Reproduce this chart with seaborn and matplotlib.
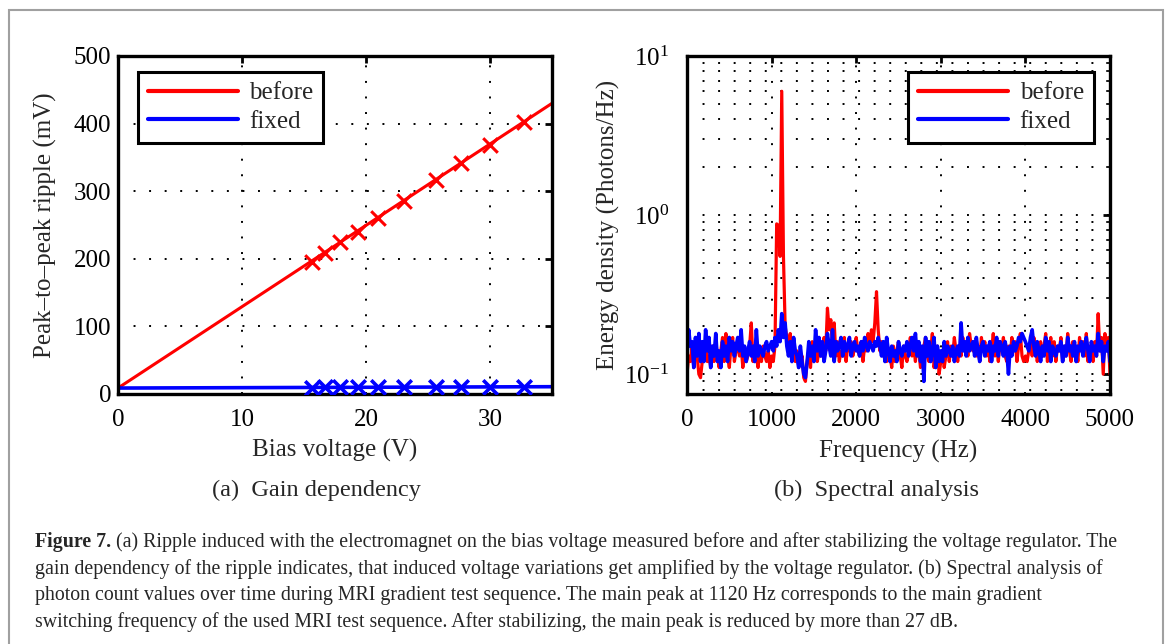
import numpy as np
import matplotlib
matplotlib.use("Agg")
import matplotlib.pyplot as plt
from matplotlib.patches import Rectangle
from matplotlib.ticker import NullFormatter, LogLocator
import seaborn as sns

# ---------------- data ----------------
bias_v = [15.67, 16.69, 17.92, 19.36, 20.98, 23.10, 25.62, 27.63, 29.97, 32.72]
ripple_before = [196, 208, 224.5, 240, 261, 285, 316, 342, 369, 403]
ripple_fixed = [9.6, 9.7, 9.8, 9.8, 9.9, 10.0, 10.1, 10.1, 10.2, 10.4]
fit_x = [0, 35]
fit_before = [8.8, 430]
fit_fixed = [8.8, 10.8]

freq_step = 20
spec_before = [
    0.10, 0.13, 0.12, 0.15, 0.11, 0.14, 0.13, 0.10, 0.095, 0.12,
    0.14, 0.16, 0.12, 0.13, 0.11, 0.15, 0.12, 0.16, 0.13, 0.11,
    0.14, 0.17, 0.12, 0.18, 0.13, 0.11, 0.15, 0.17, 0.12, 0.14,
    0.16, 0.13, 0.15, 0.11, 0.14, 0.12, 0.13, 0.15, 0.21, 0.12,
    0.15, 0.13, 0.11, 0.14, 0.12, 0.15, 0.13, 0.12, 0.14, 0.11,
    0.13, 0.12, 0.15, 0.88, 0.86, 0.55, 6.0, 0.55, 0.20, 0.17,
    0.15, 0.18, 0.13, 0.16, 0.12, 0.14, 0.11, 0.12, 0.13, 0.095,
    0.09, 0.12, 0.14, 0.11, 0.16, 0.13, 0.15, 0.12, 0.14, 0.13,
    0.15, 0.17, 0.14, 0.26, 0.19, 0.22, 0.15, 0.21, 0.13, 0.16,
    0.12, 0.14, 0.13, 0.17, 0.12, 0.15, 0.14, 0.16, 0.13, 0.15,
    0.17, 0.14, 0.13, 0.16, 0.12, 0.15, 0.14, 0.18, 0.15, 0.19,
    0.16, 0.21, 0.33, 0.19, 0.14, 0.16, 0.13, 0.15, 0.12, 0.14,
    0.13, 0.11, 0.15, 0.12, 0.14, 0.16, 0.13, 0.11, 0.15, 0.13,
    0.12, 0.14, 0.17, 0.13, 0.15, 0.12, 0.16, 0.14, 0.11, 0.13,
    0.15, 0.17, 0.13, 0.12, 0.14, 0.18, 0.11, 0.13, 0.15, 0.10,
    0.12, 0.14, 0.11, 0.13, 0.16, 0.12, 0.15, 0.13, 0.17, 0.14,
    0.12, 0.15, 0.13, 0.17, 0.14, 0.16, 0.13, 0.18, 0.15, 0.14,
    0.16, 0.13, 0.15, 0.12, 0.17, 0.14, 0.16, 0.13, 0.15, 0.12,
    0.14, 0.18, 0.13, 0.15, 0.12, 0.16, 0.14, 0.17, 0.13, 0.12,
    0.15, 0.13, 0.17, 0.14, 0.16, 0.12, 0.15, 0.18, 0.13, 0.12,
    0.13, 0.12, 0.14, 0.16, 0.13, 0.17, 0.15, 0.12, 0.14, 0.16,
    0.13, 0.15, 0.18, 0.12, 0.14, 0.17, 0.13, 0.16, 0.12, 0.15,
    0.14, 0.17, 0.12, 0.15, 0.13, 0.18, 0.14, 0.12, 0.16, 0.13,
    0.15, 0.12, 0.17, 0.14, 0.16, 0.13, 0.18, 0.12, 0.15, 0.14,
    0.12, 0.16, 0.13, 0.24, 0.14, 0.17, 0.10, 0.18, 0.14, 0.17,
    0.10,
]
spec_fixed = [
    0.13, 0.19, 0.15, 0.16, 0.11, 0.17, 0.13, 0.18, 0.12, 0.16,
    0.12, 0.19, 0.14, 0.17, 0.11, 0.15, 0.13, 0.18, 0.12, 0.14,
    0.11, 0.16, 0.13, 0.15, 0.12, 0.17, 0.14, 0.16, 0.13, 0.15,
    0.17, 0.14, 0.19, 0.13, 0.15, 0.12, 0.14, 0.16, 0.13, 0.15,
    0.12, 0.19, 0.13, 0.15, 0.14, 0.13, 0.15, 0.16, 0.14, 0.15,
    0.16, 0.14, 0.17, 0.15, 0.19, 0.16, 0.24, 0.17, 0.21, 0.15,
    0.13, 0.16, 0.12, 0.17, 0.14, 0.13, 0.11, 0.15, 0.12, 0.10,
    0.095, 0.12, 0.16, 0.13, 0.15, 0.12, 0.19, 0.14, 0.17, 0.13,
    0.16, 0.12, 0.14, 0.18, 0.15, 0.13, 0.19, 0.12, 0.16, 0.14,
    0.15, 0.17, 0.13, 0.16, 0.14, 0.15, 0.17, 0.13, 0.15, 0.16,
    0.14, 0.15, 0.13, 0.16, 0.14, 0.17, 0.15, 0.14, 0.16, 0.15,
    0.14, 0.16, 0.15, 0.17, 0.15, 0.13, 0.16, 0.12, 0.17, 0.14,
    0.12, 0.15, 0.13, 0.14, 0.12, 0.16, 0.14, 0.13, 0.15, 0.14,
    0.16, 0.13, 0.15, 0.17, 0.14, 0.18, 0.13, 0.16, 0.12, 0.15,
    0.09, 0.17, 0.13, 0.16, 0.12, 0.14, 0.17, 0.11, 0.15, 0.12,
    0.14, 0.12, 0.16, 0.13, 0.15, 0.14, 0.13, 0.15, 0.12, 0.14,
    0.15, 0.13, 0.21, 0.14, 0.16, 0.13, 0.17, 0.14, 0.15, 0.16,
    0.13, 0.17, 0.14, 0.12, 0.15, 0.16, 0.13, 0.15, 0.14, 0.16,
    0.12, 0.15, 0.14, 0.17, 0.13, 0.16, 0.15, 0.13, 0.16, 0.14,
    0.10, 0.15, 0.13, 0.16, 0.14, 0.15, 0.17, 0.16, 0.18, 0.17,
    0.16, 0.15, 0.14, 0.17, 0.19, 0.15, 0.13, 0.16, 0.14, 0.12,
    0.15, 0.13, 0.17, 0.14, 0.16, 0.12, 0.15, 0.14, 0.13, 0.15,
    0.14, 0.16, 0.12, 0.15, 0.13, 0.17, 0.14, 0.15, 0.13, 0.16,
    0.12, 0.15, 0.14, 0.16, 0.13, 0.15, 0.17, 0.14, 0.12, 0.16,
    0.14, 0.15, 0.13, 0.18, 0.14, 0.16, 0.12, 0.15, 0.14, 0.16,
    0.12,
]
freq = np.arange(len(spec_before)) * freq_step

left_xticks = [0, 10, 20, 30]
left_yticks = [0, 100, 200, 300, 400, 500]
right_xticks = [0, 1000, 2000, 3000, 4000, 5000]

caption_bold = "Figure 7."
caption_lines = [
    "(a) Ripple induced with the electromagnet on the bias voltage measured before and after stabilizing the voltage regulator. The",
    "gain dependency of the ripple indicates, that induced voltage variations get amplified by the voltage regulator. (b) Spectral analysis of",
    "photon count values over time during MRI gradient test sequence. The main peak at 1120 Hz corresponds to the main gradient",
    "switching frequency of the used MRI test sequence. After stabilizing, the main peak is reduced by more than 27 dB.",
]

# ---------------- style ----------------
sns.set_style("white")
plt.rcParams["font.family"] = ["Liberation Serif", "DejaVu Serif"]
plt.rcParams["mathtext.fontset"] = "custom"
plt.rcParams["mathtext.rm"] = "Liberation Serif"
plt.rcParams["mathtext.it"] = "Liberation Serif:italic"
plt.rcParams["mathtext.bf"] = "Liberation Serif:bold"
plt.rcParams["axes.unicode_minus"] = True

W, H = 1171, 644
fig = plt.figure(figsize=(W / 100, H / 100), dpi=100)
fig.patch.set_facecolor("white")


def ax_rect(l, t, r, b):
    return [l / W, 1 - b / H, (r - l) / W, (b - t) / H]


ax1 = fig.add_axes(ax_rect(118, 56, 552, 394))
ax2 = fig.add_axes(ax_rect(687, 56, 1110, 394))

grid_kw = dict(color="black", linestyle=(0, (1, 7)), linewidth=1.4)
FS = 18

leg_kw = dict(fontsize=FS, handlelength=3.6, handletextpad=0.45, borderpad=0.4,
              labelspacing=0.25, borderaxespad=0, fancybox=False, framealpha=1,
              edgecolor="black")

# ---- left panel ----
sns.lineplot(x=fit_x, y=fit_before, ax=ax1, color="#ff0000", linewidth=2.2, label="before")
sns.lineplot(x=fit_x, y=fit_fixed, ax=ax1, color="#0000ff", linewidth=2.6, label="fixed")
sns.scatterplot(x=bias_v, y=ripple_before, ax=ax1, color="#ff0000", marker="x", s=110,
                linewidth=2.2, legend=False, zorder=3)
sns.scatterplot(x=bias_v, y=ripple_fixed, ax=ax1, color="#0000ff", marker="x", s=110,
                linewidth=2.6, legend=False, zorder=3)
ax1.set_xlim(0, 35)
ax1.set_ylim(0, 500)
ax1.set_xticks(left_xticks)
ax1.set_yticks(left_yticks)
ax1.grid(True, **grid_kw)
ax1.set_xlabel("Bias voltage (V)", fontsize=FS)
ax1.set_ylabel("Peak\u2013to\u2013peak ripple (mV)", fontsize=FS)
ax1.xaxis.set_label_coords(0.5, (394 - 450) / 338, transform=ax1.transAxes)
ax1.yaxis.set_label_coords((45 - 118) / 434, 0.5, transform=ax1.transAxes)
for t in (ax1.xaxis.label, ax1.yaxis.label):
    t.set_va("center")
leg1 = ax1.legend(loc="upper left", bbox_to_anchor=(0.046, 0.953), **leg_kw)
leg1.get_frame().set_linewidth(2.2)
for ln in leg1.get_lines():
    ln.set_linewidth(3)

# ---- right panel ----
ax2.set_yscale("log")
sns.lineplot(x=freq, y=spec_before, ax=ax2, color="#ff0000", linewidth=2.3, label="before")
sns.lineplot(x=freq, y=spec_fixed, ax=ax2, color="#0000ff", linewidth=2.6, label="fixed")
ax2.set_xlim(0, 5000)
ax2.set_ylim(0.075, 10)
ax2.set_xticks(right_xticks)
ax2.yaxis.set_major_locator(LogLocator(base=10, numticks=10))
ax2.yaxis.set_minor_locator(LogLocator(base=10, subs=np.arange(2, 10), numticks=20))
ax2.yaxis.set_minor_formatter(NullFormatter())
ax2.grid(True, which="both", axis="y", **grid_kw)
ax2.grid(True, which="major", axis="x", **grid_kw)
ax2.set_xlabel("Frequency (Hz)", fontsize=FS)
ax2.set_ylabel("Energy density (Photons/Hz)", fontsize=FS)
ax2.xaxis.set_label_coords(0.5, (394 - 451) / 338, transform=ax2.transAxes)
ax2.yaxis.set_label_coords((608 - 687) / 423, 0.5, transform=ax2.transAxes)
for t in (ax2.xaxis.label, ax2.yaxis.label):
    t.set_va("center")
leg2 = ax2.legend(loc="upper right", bbox_to_anchor=(0.962, 0.953), **leg_kw)
leg2.get_frame().set_linewidth(2.2)
for ln in leg2.get_lines():
    ln.set_linewidth(3)

for ax in (ax1, ax2):
    for sp in ax.spines.values():
        sp.set_visible(True)
        sp.set_color("black")
        sp.set_linewidth(2.4)
    ax.tick_params(which="major", direction="in", length=5, width=2, top=True, right=True,
                   labelsize=FS, colors="black")
    ax.tick_params(which="minor", direction="in", length=3, width=1.2, top=True, right=True)
    ax.tick_params(axis="x", which="major", pad=10.5)
    ax.set_facecolor("white")
    ax.set_axisbelow(True)
ax1.tick_params(axis="y", which="major", pad=5)
ax2.tick_params(axis="y", which="major", pad=13)

# sub captions
fig.text(316 / W, 1 - 490 / H, "(a)  Gain dependency", fontsize=17.5, ha="center", va="center")
fig.text(877 / W, 1 - 490 / H, "(b)  Spectral analysis", fontsize=17.5, ha="center", va="center")

# figure caption
renderer = fig.canvas.get_renderer()
cap_fs = 14.3
x0 = 35 / W
baselines = [547, 574, 600, 627]
tb = fig.text(x0, 1 - baselines[0] / H, caption_bold, fontsize=cap_fs, weight="bold",
              ha="left", va="baseline")
wb = tb.get_window_extent(renderer).width
fig.text(x0 + (wb + 5) / W, 1 - baselines[0] / H, caption_lines[0], fontsize=cap_fs,
         ha="left", va="baseline")
for yb, line in zip(baselines[1:], caption_lines[1:]):
    fig.text(x0, 1 - yb / H, line, fontsize=cap_fs, ha="left", va="baseline")

# outer gray frame
fig.add_artist(Rectangle((9 / W, -0.05), (1163 - 9) / W, 1 - 10 / H + 0.05,
                         transform=fig.transFigure, fill=False, edgecolor="#a0a0a0",
                         linewidth=1.5))

fig.savefig("out.png", dpi=100, facecolor="white")
